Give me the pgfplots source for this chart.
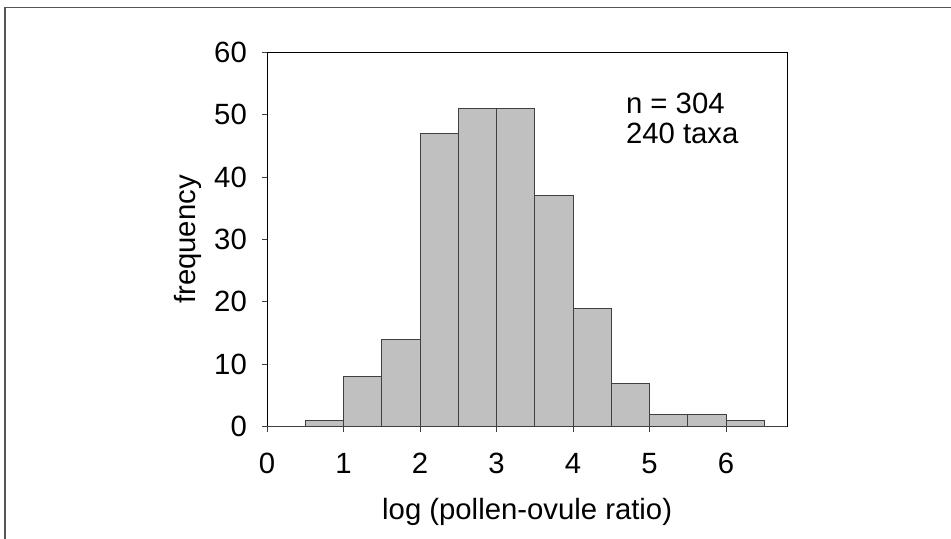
\documentclass[border=0pt]{standalone}
\usepackage{fontspec}
\setmainfont{Liberation Sans}
\usepackage{pgfplots}
\pgfplotsset{compat=1.18}
\definecolor{barfill}{HTML}{C0C0C0}
\definecolor{edge}{HTML}{404040}
\definecolor{framegray}{HTML}{555555}

\begin{document}
\begin{tikzpicture}[x=1bp,y=1bp,font=\fontsize{29.3bp}{35bp}\selectfont]
\useasboundingbox (0,0) rectangle (951,539);
% outer frame of the page (only left and top edges visible)
\draw[framegray, line width=1.4bp] (5,-5) -- (5,531.7) -- (960,531.7);
\begin{axis}[
    at={(267bp,112.3bp)}, anchor=south west,
    scale only axis,
    width=520.3bp, height=374.4bp,
    xmin=0, xmax=6.8,
    ymin=0, ymax=60,
    xtick={0,1,...,6},
    ytick={0,10,...,60},
    xtick pos=left, ytick pos=left,
    tick align=outside,
    major tick length=5bp,
    tick style={color=edge, line width=0.9bp},
    axis line style={black, line width=1bp},
    /pgf/number format/assume math mode=true,
    yticklabel style={anchor=east, inner sep=0pt, xshift=-15bp},
    xticklabel style={anchor=north, inner sep=0pt, yshift=-21.6bp},
    xlabel={log (pollen-ovule ratio)},
    ylabel={frequency},
    every axis x label/.style={at={(axis description cs:0.5,0)}, anchor=base, yshift=-93.3bp},
    every axis y label/.style={at={(axis description cs:-0.1365,0.5)}, rotate=90, anchor=base},
]
\addplot[ybar interval, fill=barfill, draw=edge, line width=0.9bp] coordinates {
    (0.5,1) (1.0,8) (1.5,14) (2.0,47) (2.5,51) (3.0,51)
    (3.5,37) (4.0,19) (4.5,7) (5.0,2) (5.5,2) (6.0,1) (6.5,1)
};
\draw[edge, line width=2bp] (axis cs:0,0) -- (axis cs:6.8,0);
\node[anchor=base west, inner sep=0pt] at (axis cs:4.69,50.27) {n = 304};
\node[anchor=base west, inner sep=0pt] at (axis cs:4.69,45.46) {240 taxa};
\end{axis}
\end{tikzpicture}
\end{document}
